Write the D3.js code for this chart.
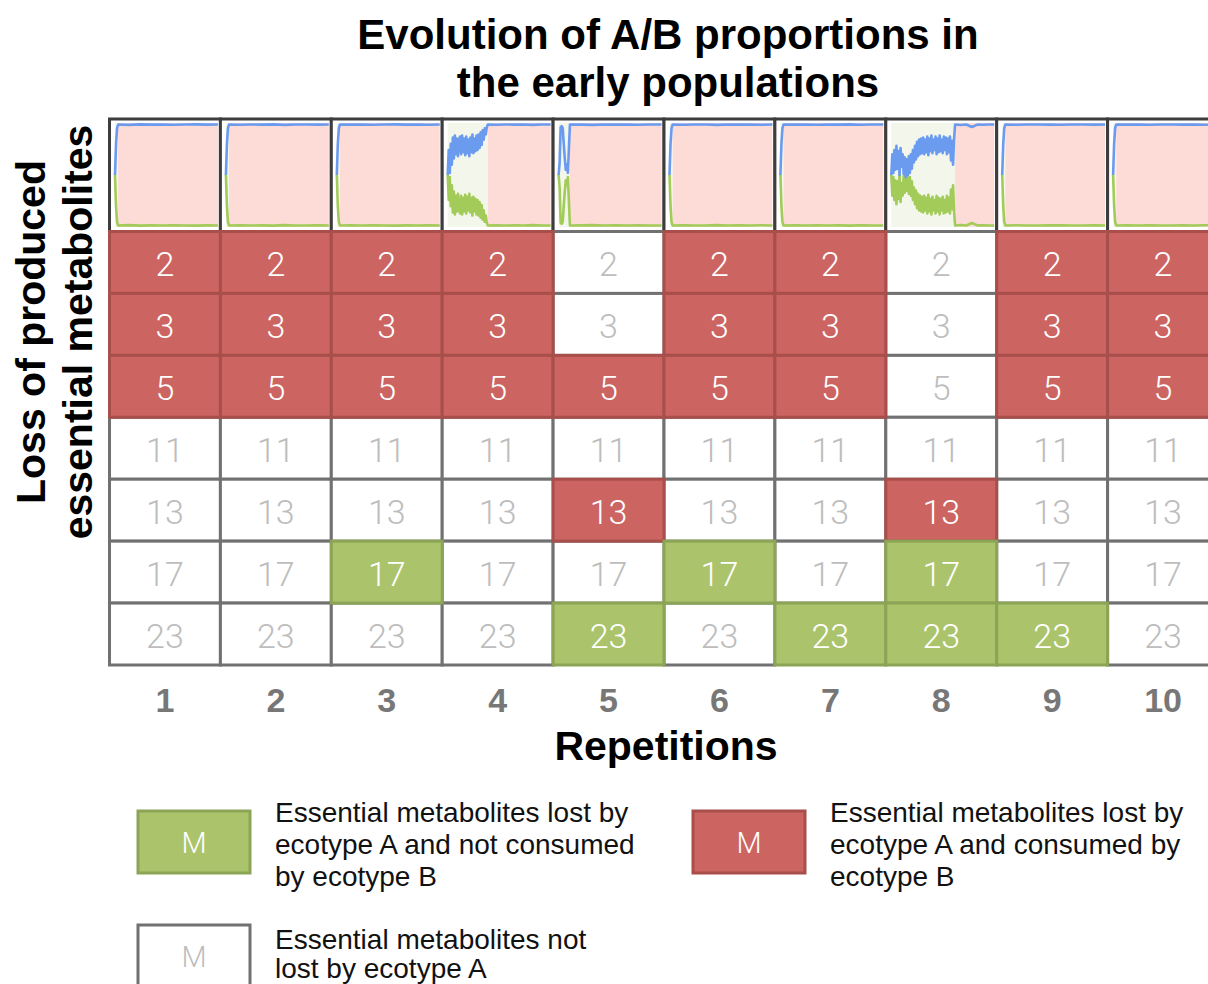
<!DOCTYPE html>
<html>
<head>
<meta charset="utf-8">
<script src="https://cdn.jsdelivr.net/npm/d3@7"></script>
<style>
  html, body { margin: 0; padding: 0; background: #ffffff; }
  svg { display: block; }
</style>
</head>
<body>
<svg id="chart" width="1208" height="984"></svg>
<script>
// Repetitions (columns) and the essential metabolites tracked in each (rows)
const repetitions = [1, 2, 3, 4, 5, 6, 7, 8, 9, 10];
const metabolites = [2, 3, 5, 11, 13, 17, 23];

// Metabolites lost by ecotype A and consumed by ecotype B, per repetition
const lostConsumed = [
  [2, 3, 5], [2, 3, 5], [2, 3, 5], [2, 3, 5], [5, 13],
  [2, 3, 5], [2, 3, 5], [13], [2, 3, 5], [2, 3, 5]
];
// Metabolites lost by ecotype A and not consumed by ecotype B, per repetition
const lostNotConsumed = [
  [], [], [17], [], [23], [17], [23], [17, 23], [23], []
];

// Time (fraction of the run) at which the population fixes, per repetition
const fixationTime = [0.03, 0.03, 0.03, 0.39, 0.11, 0.03, 0.03, 0.62, 0.03, 0.03];

// Share of ecotype B before fixation, one sample every 0.01 of the run
const earlyShareB = [
  [0.50, 0.80, 0.95],
  [0.50, 0.80, 0.95],
  [0.50, 0.80, 0.95],
  [0.50, 0.74, 0.52, 0.80, 0.60, 0.86, 0.66, 0.88, 0.70, 0.85, 0.68, 0.83, 0.87,
   0.70, 0.88, 0.72, 0.85, 0.69, 0.87, 0.71, 0.84, 0.68, 0.86, 0.72, 0.89, 0.71,
   0.85, 0.73, 0.88, 0.74, 0.89, 0.76, 0.91, 0.79, 0.93, 0.84, 0.95, 0.89, 0.96],
  [0.50, 0.62, 0.96, 0.97, 0.95, 0.80, 0.66, 0.55, 0.60, 0.52, 0.75],
  [0.50, 0.80, 0.95],
  [0.50, 0.80, 0.95],
  [0.50, 0.70, 0.52, 0.74, 0.55, 0.78, 0.56, 0.73, 0.50, 0.76, 0.58,
   0.70, 0.51, 0.67, 0.48, 0.65, 0.50, 0.68, 0.52, 0.70, 0.56,
   0.74, 0.62, 0.78, 0.65, 0.82, 0.68, 0.84, 0.70, 0.85, 0.71,
   0.86, 0.70, 0.84, 0.72, 0.87, 0.69, 0.85, 0.73, 0.88, 0.71, 0.84, 0.74, 0.87,
   0.70, 0.85, 0.72, 0.88, 0.73, 0.84, 0.71, 0.87, 0.74, 0.86, 0.70, 0.85,
   0.72, 0.87, 0.64, 0.83, 0.60, 0.85],
  [0.50, 0.80, 0.95],
  [0.50, 0.80, 0.95]
];

// Share of ecotype B after fixation, evenly spread from fixation to the end
const lateShareB = [
  [0.985, 0.982, 0.987, 0.984, 0.986, 0.983, 0.985, 0.987, 0.984, 0.986],
  [0.985, 0.983, 0.986, 0.984, 0.987, 0.982, 0.985, 0.986, 0.984, 0.985],
  [0.985, 0.984, 0.986, 0.983, 0.985, 0.987, 0.984, 0.985, 0.983, 0.986],
  [0.985, 0.983, 0.986, 0.984, 0.985, 0.982, 0.986, 0.985],
  [0.985, 0.984, 0.982, 0.986, 0.984, 0.985, 0.983, 0.986, 0.985],
  [0.985, 0.983, 0.986, 0.985, 0.982, 0.986, 0.984, 0.985, 0.983, 0.986],
  [0.985, 0.984, 0.986, 0.983, 0.985, 0.984, 0.987, 0.983, 0.985, 0.986],
  [0.985, 0.980, 0.986, 0.962, 0.984, 0.983, 0.986, 0.985],
  [0.985, 0.983, 0.985, 0.986, 0.984, 0.983, 0.986, 0.985, 0.984, 0.986],
  [0.985, 0.984, 0.986, 0.983, 0.985, 0.986, 0.984, 0.985, 0.983, 0.986]
];

// Legend entries
const legendItems = [
  { kind: "g", lines: ["Essential metabolites lost by", "ecotype A and not consumed", "by ecotype B"] },
  { kind: "r", lines: ["Essential metabolites lost by", "ecotype A and consumed by", "ecotype B"] },
  { kind: "w", lines: ["Essential metabolites not", "lost by ecotype A"] }
];

const palette = {
  r: { fill: "#cc6461", stroke: "#a84f4c", text: "#ffffff" },
  g: { fill: "#abc46c", stroke: "#8ba455", text: "#ffffff" },
  w: { fill: "#ffffff", stroke: "#717171", text: "#bdbdbd" }
};
const numFont = "Roboto, 'Helvetica Neue', 'Liberation Sans', sans-serif";
const boldFont = "'Liberation Sans', Arial, sans-serif";

const svg = d3.select("#chart");
svg.append("rect").attr("width", 1208).attr("height", 984).attr("fill", "#ffffff");

// Layout
const gridLeft = 109.5, colWidth = 110.9;
const plotTop = 119, plotBottom = 231.5, gridBottom = 665;

const x = d3.scaleBand().domain(repetitions).range([gridLeft, gridLeft + colWidth * repetitions.length]);
const y = d3.scaleBand().domain(metabolites).range([plotBottom, gridBottom]);

// Cell status for each repetition / metabolite
const cells = [];
repetitions.forEach((rep, i) => {
  metabolites.forEach(m => {
    let kind = "w";
    if (lostConsumed[i].includes(m)) kind = "r";
    else if (lostNotConsumed[i].includes(m)) kind = "g";
    cells.push({ rep, m, kind });
  });
});

// ---- Mini time-series row ----
const plots = svg.append("g");
repetitions.forEach((rep, i) => {
  const x0 = x(rep), x1 = x(rep) + x.bandwidth();
  const g = plots.append("g");
  g.append("rect")
    .attr("x", x0).attr("y", plotTop)
    .attr("width", x.bandwidth()).attr("height", plotBottom - plotTop)
    .attr("fill", "#ffffff").attr("stroke", "#3d3d3d").attr("stroke-width", 3);

  const tx = d3.scaleLinear().domain([0, 1]).range([x0 + 5.5, x1 - 2.5]);
  const ty = d3.scaleLinear().domain([0, 1]).range([227, 123]);

  // Coexistence phase (light green) and fixed phase (pink)
  g.append("rect")
    .attr("x", tx(0)).attr("y", ty(1))
    .attr("width", tx(fixationTime[i]) - tx(0)).attr("height", ty(0) - ty(1))
    .attr("fill", "#f3f7eb");
  g.append("rect")
    .attr("x", tx(fixationTime[i])).attr("y", ty(1))
    .attr("width", tx(1) - tx(fixationTime[i])).attr("height", ty(0) - ty(1))
    .attr("fill", "#fddcd7");

  const early = earlyShareB[i].map((v, k) => [k * 0.01, v]);
  const late = lateShareB[i];
  const lateStep = (1 - fixationTime[i]) / (late.length - 1);
  const lateSeries = late.map((v, k) => [fixationTime[i] + k * lateStep, v]);
  const series = early.concat(lateSeries);

  const lineB = d3.line().x(d => tx(d[0])).y(d => ty(d[1]));
  const lineA = d3.line().x(d => tx(d[0])).y(d => ty(1 - d[1]));

  g.append("path").attr("d", lineA(series))
    .attr("fill", "none").attr("stroke", "#a3cb5a").attr("stroke-width", 2.6)
    .attr("stroke-linejoin", "round");
  g.append("path").attr("d", lineB(series))
    .attr("fill", "none").attr("stroke", "#6b9bef").attr("stroke-width", 2.6)
    .attr("stroke-linejoin", "round");
});

// ---- Metabolite grid ----
const grid = svg.append("g");
const order = { w: 0, r: 1, g: 1 };
const sorted = cells.slice().sort((a, b) => order[a.kind] - order[b.kind]);

grid.selectAll("rect.cell").data(sorted).join("rect")
  .attr("class", "cell")
  .attr("x", d => x(d.rep)).attr("y", d => y(d.m))
  .attr("width", x.bandwidth()).attr("height", y.bandwidth())
  .attr("fill", d => palette[d.kind].fill)
  .attr("stroke", d => palette[d.kind].stroke)
  .attr("stroke-width", 3);

grid.selectAll("text.val").data(cells).join("text")
  .attr("class", "val")
  .attr("x", d => x(d.rep) + x.bandwidth() / 2)
  .attr("y", d => y(d.m) + y.bandwidth() / 2 + 13.5)
  .attr("text-anchor", "middle")
  .attr("font-family", numFont).attr("font-weight", 300)
  .attr("font-size", 34)
  .attr("fill", d => palette[d.kind].text)
  .text(d => d.m);

// ---- Column labels ----
svg.append("g").selectAll("text").data(repetitions).join("text")
  .attr("x", d => x(d) + x.bandwidth() / 2)
  .attr("y", 712)
  .attr("text-anchor", "middle")
  .attr("font-family", boldFont).attr("font-weight", "bold")
  .attr("font-size", 34).attr("fill", "#777777")
  .text(d => d);

// ---- Titles ----
const title = svg.append("text")
  .attr("x", 668).attr("text-anchor", "middle")
  .attr("font-family", boldFont).attr("font-weight", "bold")
  .attr("font-size", 42).attr("fill", "#000");
title.append("tspan").attr("x", 668).attr("y", 49).text("Evolution of A/B proportions in");
title.append("tspan").attr("x", 668).attr("y", 97).text("the early populations");

svg.append("text")
  .attr("x", 666).attr("y", 760).attr("text-anchor", "middle")
  .attr("font-family", boldFont).attr("font-weight", "bold")
  .attr("font-size", 41).attr("fill", "#000")
  .text("Repetitions");

const yLabel = svg.append("text")
  .attr("transform", "translate(0,332) rotate(-90)")
  .attr("text-anchor", "middle")
  .attr("font-family", boldFont).attr("font-weight", "bold")
  .attr("font-size", 41).attr("fill", "#000");
yLabel.append("tspan").attr("x", 0).attr("y", 45).text("Loss of produced");
yLabel.append("tspan").attr("x", 0).attr("y", 92).text("essential metabolites");

// ---- Legend ----
const legendPos = [
  { bx: 138, by: 811, tx: 275, ty: 822, lh: 32 },
  { bx: 693, by: 811, tx: 830, ty: 822, lh: 32 },
  { bx: 138, by: 925, tx: 275, ty: 949, lh: 29 }
];
const legend = svg.append("g");
legendItems.forEach((item, i) => {
  const p = legendPos[i];
  const pal = palette[item.kind];
  legend.append("rect")
    .attr("x", p.bx).attr("y", p.by).attr("width", 112).attr("height", 62)
    .attr("fill", pal.fill).attr("stroke", pal.stroke).attr("stroke-width", 3);
  legend.append("text")
    .attr("x", p.bx + 56).attr("y", p.by + 42)
    .attr("text-anchor", "middle")
    .attr("font-family", numFont).attr("font-weight", 300)
    .attr("font-size", 29).attr("fill", pal.text)
    .text("M");
  const t = legend.append("text")
    .attr("font-family", boldFont).attr("font-size", 28).attr("fill", "#111");
  item.lines.forEach((line, k) => {
    t.append("tspan").attr("x", p.tx).attr("y", p.ty + k * p.lh).text(line);
  });
});
</script>
</body>
</html>
